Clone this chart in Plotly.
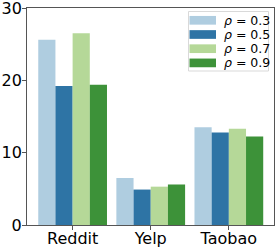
import plotly.graph_objects as go

categories = ["Reddit", "Yelp", "Taobao"]
series_names = ["0.3", "0.5", "0.7", "0.9"]
values_03 = [25.6, 6.5, 13.5]
values_05 = [19.2, 4.9, 12.8]
values_07 = [26.5, 5.3, 13.3]
values_09 = [19.4, 5.6, 12.25]
series_values = [values_03, values_05, values_07, values_09]
colors = ["#afcde0", "#2e74a5", "#b5d898", "#3d9239"]
y_ticks = [0, 10, 20, 30]

W, H = 277, 248
ML, MR, MT, MB = 27, 3, 8, 23
PW, PH = W - ML - MR, H - MT - MB


def px2x(px):
    return (px - ML) / PW


def px2y(py):
    return (H - MB - py) / PH


fig = go.Figure()
x_idx = list(range(len(categories)))
for name, vals, col in zip(series_names, series_values, colors):
    fig.add_trace(go.Bar(x=x_idx, y=vals, marker=dict(color=col, line=dict(width=0)),
                         showlegend=False, name="ρ = " + name))

# legend drawn as a compact box (matplotlib style)
box_l, box_r, box_t, box_b = 188.5, 268.5, 11.5, 71
row0, row_step = 20.3, 14.2
patch_l, patch_r, patch_h = 189.5, 216, 8.7
text_x = 221.5
fig.add_shape(type="rect", xref="paper", yref="paper",
              x0=px2x(box_l), x1=px2x(box_r), y0=px2y(box_b), y1=px2y(box_t),
              line=dict(color="#d9d9d9", width=1), fillcolor="rgba(255,255,255,0.8)", layer="above")
for i, (name, col) in enumerate(zip(series_names, colors)):
    cy = row0 + i * row_step
    fig.add_shape(type="rect", xref="paper", yref="paper",
                  x0=px2x(patch_l), x1=px2x(patch_r),
                  y0=px2y(cy + patch_h / 2), y1=px2y(cy - patch_h / 2),
                  line=dict(width=0), fillcolor=col, layer="above")
    fig.add_annotation(xref="paper", yref="paper", x=px2x(text_x), y=px2y(cy),
                       xanchor="left", yanchor="middle", showarrow=False,
                       text="<i>ρ</i> = " + name,
                       font=dict(size=12.5, family="DejaVu Sans", color="black"))

fig.update_layout(
    width=W, height=H,
    margin=dict(l=ML, r=MR, t=MT, b=MB, autoexpand=False),
    paper_bgcolor="white", plot_bgcolor="white",
    barmode="group", bargap=0.12, bargroupgap=0,
    font=dict(family="DejaVu Sans", color="black"),
    showlegend=False,
)
fig.update_xaxes(range=[-0.584, 2.578], tickvals=x_idx, ticktext=categories,
                 showline=True, linecolor="#555", linewidth=1, mirror=True,
                 ticks="outside", ticklen=4, tickcolor="#555", automargin=False,
                 ticklabelstandoff=-5, ticklabeloverflow="allow",
                 tickfont=dict(size=16), showgrid=False, zeroline=False)
fig.update_yaxes(range=[0, 30], tickvals=y_ticks,
                 showline=True, linecolor="#555", linewidth=1, mirror=True,
                 ticks="outside", ticklen=4, tickcolor="#555", automargin=False,
                 ticklabelstandoff=-3, ticklabeloverflow="allow",
                 tickfont=dict(size=16), showgrid=False, zeroline=False)

fig.write_html("out.html", config={"displayModeBar": False},
               post_script="document.body.style.margin='0';document.body.style.overflow='hidden';")
